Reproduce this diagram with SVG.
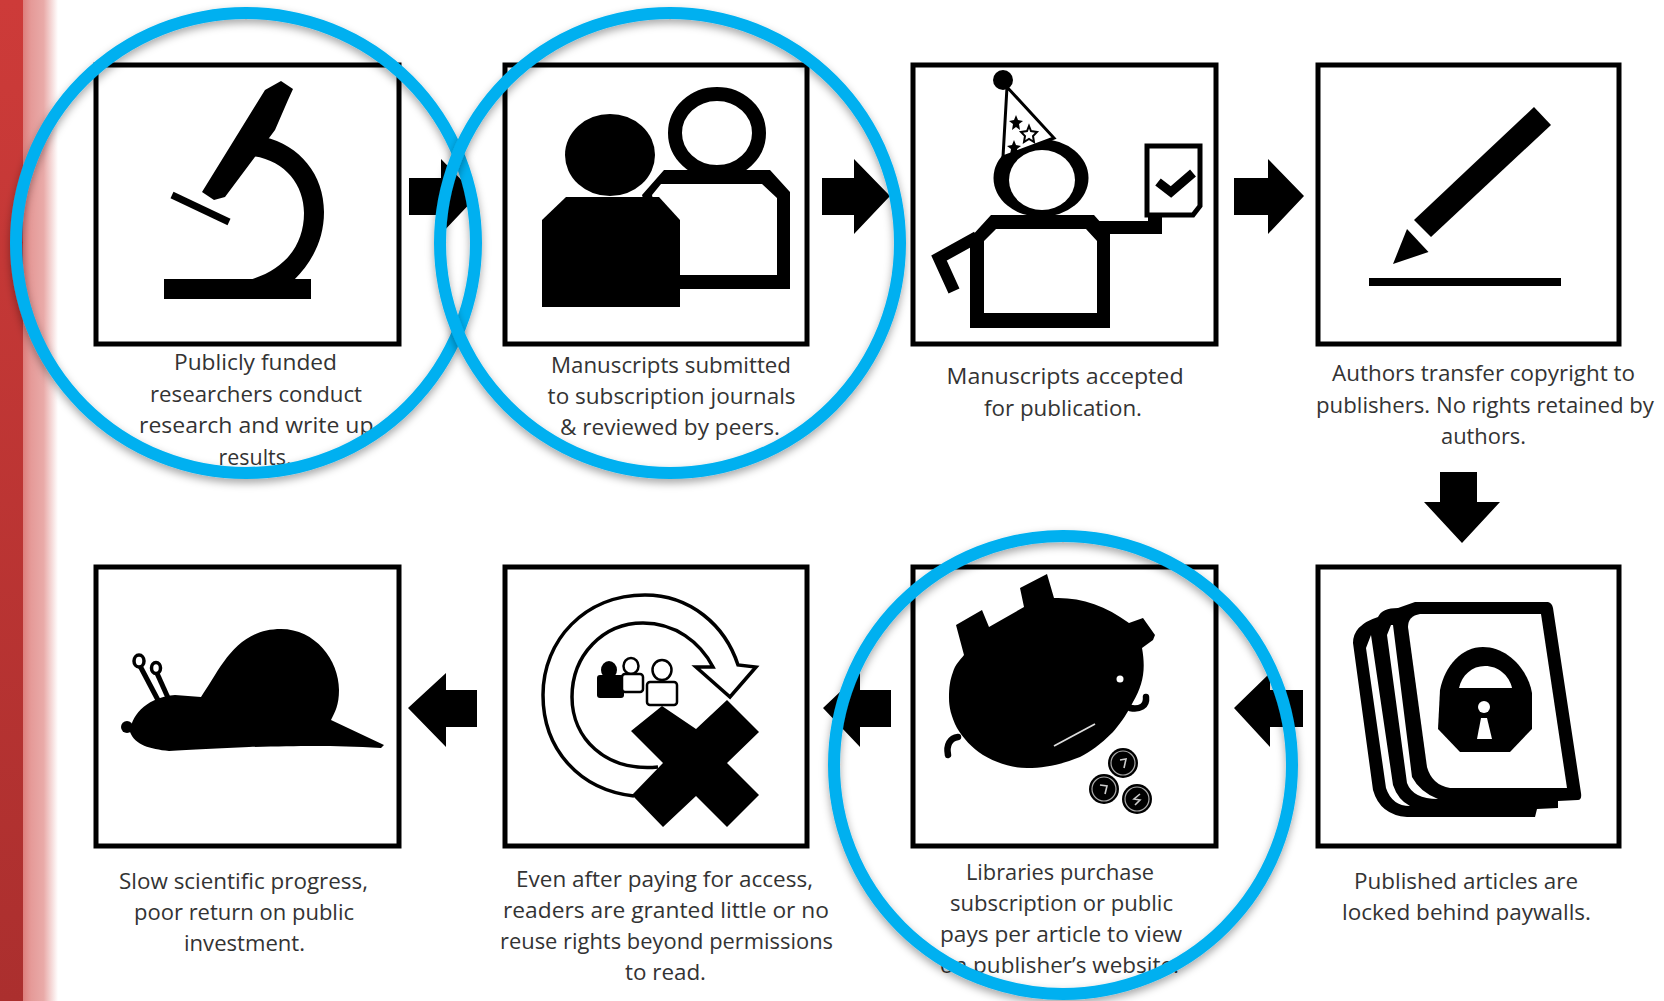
<svg xmlns="http://www.w3.org/2000/svg" width="1664" height="1001" viewBox="0 0 1664 1001">
<defs>
<linearGradient id="band" x1="0" y1="0" x2="0" y2="1"><stop offset="0" stop-color="#cd3b39"/><stop offset="1" stop-color="#ab2f2e"/></linearGradient>
<linearGradient id="fade" x1="0" y1="0" x2="1" y2="0"><stop offset="0" stop-color="#dc7b78"/><stop offset="0.25" stop-color="#e59a98"/><stop offset="0.6" stop-color="#e9aaa8"/><stop offset="1" stop-color="#ffffff"/></linearGradient>
<filter id="shadow" x="-10%" y="-10%" width="120%" height="120%"><feDropShadow dx="0" dy="4" stdDeviation="4" flood-color="#000" flood-opacity="0.35"/></filter>
<g id="coin"><circle r="15" fill="#000"/><circle r="12" fill="none" stroke="#aaa" stroke-width="1.200"/></g>
</defs>
<style>
.box{fill:#fff;stroke:#000;stroke-width:5}
.t{font-family:"Open Sans","Liberation Sans",sans-serif;font-size:21px;fill:#333}
.k{fill:#000}
.w{fill:#fff}
.ring{fill:none;stroke:#00b0f0;stroke-width:12;filter:url(#shadow)}
.o{fill:none;stroke:#000}
.c{fill:none;stroke:#ccc;stroke-width:1.600}
</style>
<rect width="1664" height="1001" fill="#fff"/>
<g id="band-left"><rect x="22" y="0" width="36" height="1001" fill="url(#fade)"/><rect x="0" y="0" width="23" height="1001" fill="url(#band)"/></g>

<g id="connectors" class="k">
<polygon points="409,178 441,178 441,159 477,196 441,234 441,215 409,215"/>
<polygon points="822,178 854,178 854,159 890,196 854,234 854,215 822,215"/>
<polygon points="1234,178 1268,178 1268,159 1304,196 1268,234 1268,215 1234,215"/>
<polygon points="1440,472 1477,472 1477,502 1500,502 1462,543 1424,502 1440,502"/>
<polygon points="1303,690 1270,690 1270,673 1234,708 1270,747 1270,727 1303,727"/>
<polygon points="891,690 860,690 860,673 823,708 860,747 860,727 891,727"/>
<polygon points="477,690 446,690 446,673 408,708 446,747 446,727 477,727"/>
</g>

<g id="node-research">
<rect class="box" x="96" y="65" width="303" height="279"/>
<polygon class="k" points="265,90 281,81 293,89 288,100 275,130 225,197 214,200 202,192"/>
<path class="k" d="M264 137 C300 145 324 175 324 212 C324 240 312 262 294 280 L249 280 C285 270 304 245 304 213 C304 185 285 160 252 156 Z"/>
<rect class="k" x="164" y="279" width="147" height="20"/>
<line x1="172" y1="195" x2="229" y2="222" stroke="#000" stroke-width="7"/>
<text class="t" x="174" y="370" textLength="163" lengthAdjust="spacingAndGlyphs">Publicly  funded</text>
<text class="t" x="150" y="402" textLength="212" lengthAdjust="spacingAndGlyphs">researchers conduct</text>
<text class="t" x="139" y="433" textLength="234.500" lengthAdjust="spacingAndGlyphs">research  and write up</text>
<text class="t" x="218.600" y="465" textLength="73" lengthAdjust="spacingAndGlyphs">results.</text>
</g>

<g id="node-submitted">
<rect class="box" x="505" y="65" width="302" height="279"/>
<ellipse class="o" cx="717" cy="133" rx="42" ry="39" stroke-width="14"/>
<path class="k" fill-rule="evenodd" d="M664 170 L770 170 L790 192 L790 289 L670 289 L642 195 Z M661 184 L762 184 L777 198 L777 275 L670 275 L652 195 Z"/>
<ellipse class="k" cx="610" cy="155" rx="45" ry="41"/>
<polygon class="k" points="566,197 659,197 680,220 680,307 542,307 542,220"/>
<text class="t" x="551" y="372.500" textLength="240" lengthAdjust="spacingAndGlyphs">Manuscripts submitted</text>
<text class="t" x="547.600" y="404" textLength="248" lengthAdjust="spacingAndGlyphs">to  subscription  journals</text>
<text class="t" x="560" y="435" textLength="220" lengthAdjust="spacingAndGlyphs">&amp; reviewed by peers.</text>
</g>

<g id="node-accepted">
<rect class="box" x="913" y="65" width="303" height="279"/>
<g transform="translate(2 0)">
<ellipse class="k" cx="1039" cy="178" rx="47.500" ry="39"/>
<ellipse class="w" cx="1040" cy="180" rx="33" ry="30"/>
<polygon points="1005,87 1001,157 1052,138" fill="#fff" stroke="#000" stroke-width="3"/>
<circle class="k" cx="1001" cy="80" r="10"/>
<polygon class="k" points="1014,115 1016,120 1021,121 1017,124 1018,130 1014,127 1010,130 1011,124 1007,121 1012,120"/>
<polygon points="1027,126 1029,131 1035,132 1031,136 1032,142 1027,139 1022,142 1023,136 1019,132 1025,131" fill="#fff" stroke="#000" stroke-width="2"/>
<polygon class="k" points="1012,140 1014,145 1019,146 1015,149 1016,155 1012,152 1008,155 1009,149 1005,146 1010,145"/>
<path class="k" fill-rule="evenodd" d="M989 215 L1092 215 L1108 233 L1108 328 L968 328 L968 238 Z M994 229 L1084 229 L1095 241 L1095 313 L982 313 L982 241 Z"/>
<polyline class="o" points="975,237 937,258 952,291" stroke-width="12"/>
<polygon class="k" points="1095,221 1146,221 1146,216 1160,216 1160,234 1100,234"/>
<polygon points="1145,146 1198,146 1198,206 1191,215 1145,215" fill="#fff" stroke="#000" stroke-width="5"/>
<polyline class="o" points="1156,182 1169,192 1191,173" stroke-width="9"/>
</g>
<text class="t" x="946.600" y="384" textLength="237" lengthAdjust="spacingAndGlyphs">Manuscripts  accepted</text>
<text class="t" x="984" y="416" textLength="158" lengthAdjust="spacingAndGlyphs">for publication.</text>
</g>

<g id="node-transfer">
<rect class="box" x="1318" y="65" width="301" height="279"/>
<g transform="translate(3 0)">
<polygon class="k" points="1531,107 1548,125 1428,237 1411,220"/>
<polygon class="k" points="1404,229 1425.500,252 1390,264"/>
<rect class="k" x="1366" y="278" width="192" height="8"/>
</g>
<text class="t" x="1332" y="381" textLength="303" lengthAdjust="spacingAndGlyphs">Authors transfer copyright to</text>
<text class="t" x="1316" y="413" textLength="338" lengthAdjust="spacingAndGlyphs">publishers.  No rights retained by</text>
<text class="t" x="1441" y="444" textLength="85" lengthAdjust="spacingAndGlyphs">authors.</text>
</g>

<g id="node-paywall">
<rect class="box" x="1318" y="567" width="301" height="279"/>
<path class="k" d="M1415 602 L1548 602 Q1552 603 1553 608 L1581 793 Q1582 800 1578 800 L1558 801 L1558 808 L1537 809 L1535 817 L1407 817 Q1380 815 1373 790 L1353 643 Q1353 625 1378 617 Q1382 608 1398 608 Z"/>
<path class="w" d="M1420 614 L1541 614 L1567 788 L1450 788 Q1432 785 1427 767 L1408 627 Q1408 616 1420 614 Z"/>
<path class="w" d="M1371 635 L1366 648 L1386 788 Q1392 806 1410 806 Q1398 800 1393 785 Z"/>
<path class="w" d="M1391 625 L1387 635 L1407 783 Q1413 799 1438 799 Q1420 792 1412 777 L1393 625 Z"/>
<path class="k" d="M1438 729 L1440 690 C1445 665 1462 647 1483 647 C1508 647 1528 670 1532 693 L1532 729 L1510 752 L1460 752 Z"/>
<path class="w" d="M1459 688 C1462 675 1472 666 1485 666 C1498 666 1509 675 1512 688 Z"/>
<circle class="w" cx="1484" cy="707" r="6"/>
<polygon class="w" points="1481,718 1487,718 1492,739 1477,739"/>
<text class="t" x="1354" y="889" textLength="224" lengthAdjust="spacingAndGlyphs">Published  articles are</text>
<text class="t" x="1342" y="920" textLength="249" lengthAdjust="spacingAndGlyphs">locked behind  paywalls.</text>
</g>

<g id="node-libraries">
<rect class="box" x="913" y="567" width="303" height="279"/>
<path class="k" d="M956 625 L982 610 L989 627 L1024 607 L1020 588 L1047 574 L1054 598 C1080 597 1105 605 1129 623 L1143 618 L1155 635 L1153 640 L1142 648 C1146 670 1143 685 1133 702 C1125 718 1118 726 1113 732 C1100 745 1090 752 1080 757 C1060 765 1045 768 1027 768 C1010 768 995 762 983 755 C972 748 963 738 957 728 C951 716 949 707 949 698 C949 687 950 680 953 672 C955 665 960 660 964 655 Z"/>
<circle class="w" cx="1120" cy="679" r="3.500"/>
<path class="o" stroke-width="6.500" stroke-linecap="round" d="M1130 708 C1140 710 1147 706 1146 697"/>
<path class="o" stroke-width="6.500" stroke-linecap="round" d="M958 737 C950 738 946 745 948 755"/>
<line x1="1054" y1="746" x2="1095" y2="724" stroke="#ddd" stroke-width="1.800"/>
<use href="#coin" x="1123" y="763"/><path class="c" d="M1120 760 L1126 759 L1124 768"/>
<use href="#coin" x="1104" y="789"/><path class="c" d="M1100 785 L1107 786 L1105 794"/>
<use href="#coin" x="1137" y="799"/><path class="c" d="M1140 794 L1134 799 L1140 800 L1135 805"/>
<text class="t" x="966" y="880" textLength="188" lengthAdjust="spacingAndGlyphs">Libraries purchase</text>
<text class="t" x="950" y="911" textLength="223" lengthAdjust="spacingAndGlyphs">subscription  or public</text>
<text class="t" x="940" y="942" textLength="242" lengthAdjust="spacingAndGlyphs">pays per article to view</text>
<text class="t" x="940" y="973" textLength="239" lengthAdjust="spacingAndGlyphs">on publisher’s  website.</text>
</g>

<g id="node-readers">
<rect class="box" x="505" y="567" width="302" height="279"/>
<path fill="#fff" stroke="#000" stroke-width="3.500" d="M634 796 C580 790 543 750 543 695 C543 640 585 595 645 595 C690 595 725 625 738 665 L756 667 L730 697 L696 667 L713 667 C700 642 675 623 643 623 C603 623 572 655 572 697 C572 738 605 772 658 767"/>
<polygon class="k" points="662,706 696,729 727,700 759,732 727,763 759,795 727,827 696,796 663,827 632,795 663,763 631,731"/>
<ellipse class="k" cx="609" cy="670" rx="8" ry="9"/>
<rect class="k" x="597" y="675" width="27" height="23" rx="3"/>
<ellipse cx="631" cy="666" rx="7.500" ry="8" fill="#fff" stroke="#000" stroke-width="2.500"/>
<rect x="622" y="674" width="21" height="18" rx="3" fill="#fff" stroke="#000" stroke-width="2.500"/>
<ellipse cx="662" cy="670" rx="9.500" ry="10" fill="#fff" stroke="#000" stroke-width="2.500"/>
<rect x="647" y="682" width="30" height="23" rx="3" fill="#fff" stroke="#000" stroke-width="2.500"/>
<text class="t" x="516" y="887" textLength="297" lengthAdjust="spacingAndGlyphs">Even after paying  for access,</text>
<text class="t" x="503" y="918" textLength="326" lengthAdjust="spacingAndGlyphs">readers  are granted little or no</text>
<text class="t" x="500" y="949" textLength="333" lengthAdjust="spacingAndGlyphs">reuse rights beyond  permissions</text>
<text class="t" x="625" y="980" textLength="81" lengthAdjust="spacingAndGlyphs">to read.</text>
</g>

<g id="node-slow">
<rect class="box" x="96" y="567" width="303" height="279"/>
<path class="k" d="M130 732 C132 712 150 697 175 695 L201 697 C220 670 235 629 281 629 C315 629 339 660 339 690 C339 705 335 712 331 720 L384 745 L381 748 C330 745 300 746 249 747 C220 748 190 750 169 751 C150 749 135 745 130 732 Z"/>
<circle class="k" cx="127" cy="727" r="6"/>
<line x1="139" y1="664" x2="159" y2="702" stroke="#000" stroke-width="5"/>
<line x1="156" y1="671" x2="169" y2="700" stroke="#000" stroke-width="5"/>
<ellipse cx="139" cy="661" rx="5" ry="6" fill="#fff" stroke="#000" stroke-width="3.500"/>
<ellipse cx="156" cy="668" rx="4.500" ry="5.500" fill="#fff" stroke="#000" stroke-width="3.500"/>
<text class="t" x="119" y="889" textLength="249" lengthAdjust="spacingAndGlyphs">Slow scientific  progress,</text>
<text class="t" x="134" y="920" textLength="220" lengthAdjust="spacingAndGlyphs">poor return on public</text>
<text class="t" x="184" y="951" textLength="121" lengthAdjust="spacingAndGlyphs">investment.</text>
</g>

<g id="highlights">
<circle class="ring" cx="246" cy="243" r="230"/>
<circle class="ring" cx="670" cy="243" r="230"/>
<circle class="ring" cx="1063" cy="765" r="229"/>
</g>
</svg>
